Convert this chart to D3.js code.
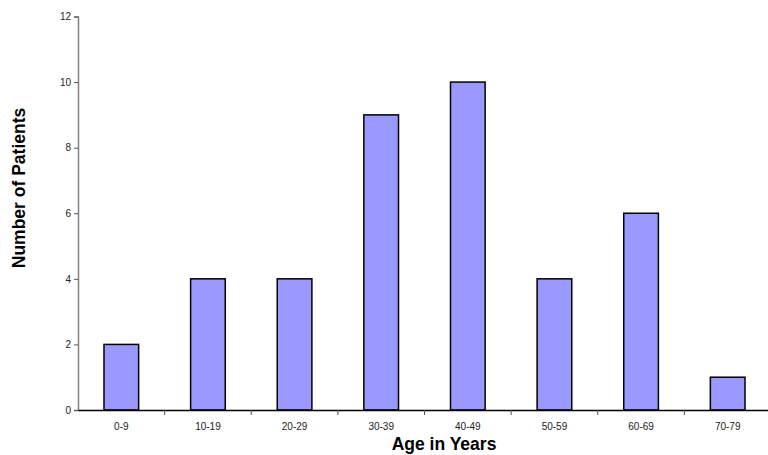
<!DOCTYPE html>
<html>
<head>
<meta charset="utf-8">
<script src="https://cdn.jsdelivr.net/npm/d3@7"></script>
<style>
  body { margin: 0; background: #fff; }
  svg { font-family: "Liberation Sans", Arial, sans-serif; }
</style>
</head>
<body>
<div id="chart"></div>
<script>
// age groups and patient counts
var ageGroups = ["0-9", "10-19", "20-29", "30-39", "40-49", "50-59", "60-69", "70-79"];
var patients = [2, 4, 4, 9, 10, 4, 6, 1];
var yTicks = [0, 2, 4, 6, 8, 10, 12];

/**
 * Draws the histogram of patients per age group.
 */
function drawChart() {
    var svg = d3.select("#chart")
        .append("svg")
        .attr("width", 768)
        .attr("height", 455);

    var x = d3.scaleBand()
        .domain(ageGroups)
        .range([78, 771])
        .paddingInner(0.6)
        .paddingOuter(0.3);

    var xb = d3.scaleBand().domain(ageGroups).range([78, 771]);

    var y = d3.scaleLinear()
        .domain([0, 12])
        .range([410, 16.5]);

    // bars
    svg.selectAll("rect.bar")
        .data(patients)
        .enter()
        .append("rect")
        .attr("class", "bar")
        .attr("x", function (d, i) { return x(ageGroups[i]); })
        .attr("y", function (d) { return y(d); })
        .attr("width", x.bandwidth())
        .attr("height", function (d) { return y(0) - y(d); })
        .attr("fill", "#9999ff")
        .attr("stroke", "#000")
        .attr("stroke-width", 1.5);

    // y axis
    var yAxis = svg.append("g")
        .attr("transform", "translate(78,0)")
        .call(d3.axisLeft(y).tickValues(yTicks).tickSize(4).tickPadding(3));
    yAxis.select(".domain").attr("stroke", "#808080").attr("stroke-width", 1.5);
    yAxis.selectAll(".tick line").attr("stroke", "#555");
    yAxis.selectAll("text").style("font-size", "10px").attr("fill", "#222");

    // x axis
    var xAxis = svg.append("g")
        .attr("transform", "translate(0,410)")
        .call(d3.axisBottom(xb).tickSize(0).tickPadding(13));
    xAxis.select(".domain").attr("stroke", "#000").attr("stroke-width", 1.5);
    xAxis.selectAll("text").style("font-size", "10px").attr("fill", "#222");

    // tick marks between categories
    xAxis.selectAll("line.sep")
        .data(ageGroups.slice(1))
        .enter()
        .append("line")
        .attr("class", "sep")
        .attr("x1", function (d) { return xb(d); })
        .attr("x2", function (d) { return xb(d); })
        .attr("y1", 0)
        .attr("y2", 5)
        .attr("stroke", "#555");

    // axis titles
    svg.append("text")
        .attr("x", 444)
        .attr("y", 450)
        .style("text-anchor", "middle")
        .style("font-weight", "bold")
        .style("font-size", "17.5px")
        .text("Age in Years");

    svg.append("text")
        .attr("transform", "translate(25,188) rotate(-90)")
        .style("text-anchor", "middle")
        .style("font-weight", "bold")
        .style("font-size", "17.5px")
        .text("Number of Patients");
}

drawChart();
</script>
</body>
</html>
